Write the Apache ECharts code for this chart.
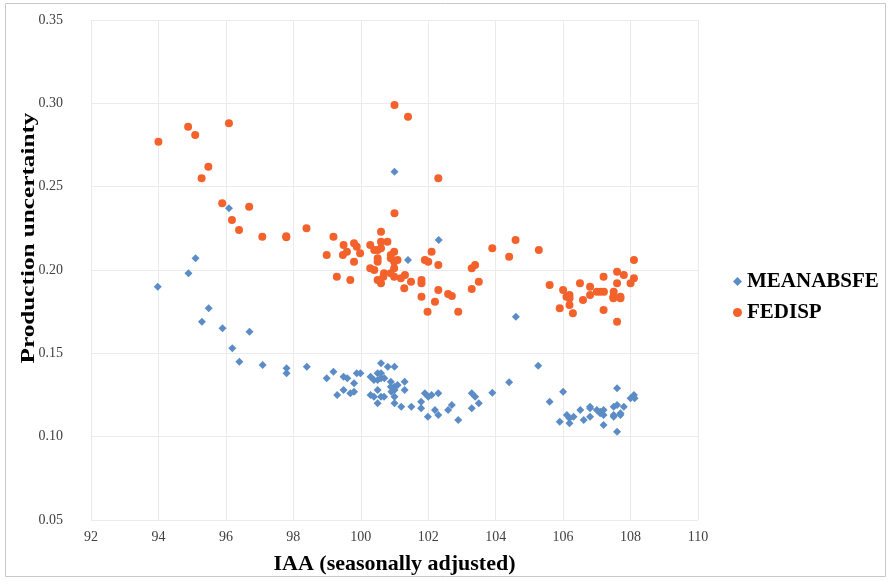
<!DOCTYPE html>
<html>
<head>
<meta charset="utf-8">
<script src="https://cdn.jsdelivr.net/npm/echarts@6/dist/echarts.min.js"></script>
<style>html,body{margin:0;padding:0;background:#fff}#c{width:891px;height:587px}</style>
</head>
<body>
<div id="c"></div>
<script>
const xTicks = [92, 94, 96, 98, 100, 102, 104, 106, 108, 110];
const yTicks = [0.05, 0.10, 0.15, 0.20, 0.25, 0.30, 0.35];
const xTitle = 'IAA (seasonally adjusted)';
const yTitle = 'Production uncertainty';

const fedispX = [94.0,94.88,95.09,96.09,95.48,95.28,95.89,96.69,96.18,96.39,97.08,97.79,97.79,98.39,98.99,101.0,101.4,102.3,101.0,104.59,103.9,104.4,105.28,99.19,99.49,99.59,99.47,99.8,99.88,99.98,99.8,99.29,99.69,100.6,100.6,100.79,100.28,100.4,100.5,100.6,100.99,100.89,100.5,100.5,100.89,101.09,100.99,100.28,100.4,100.99,100.69,100.67,100.89,100.99,100.5,100.6,101.19,101.31,101.49,101.29,101.8,101.8,101.9,102.0,102.1,102.3,102.3,101.8,102.2,102.59,102.7,101.98,102.89,103.29,103.5,103.29,103.39,105.6,106.0,106.1,106.19,106.19,105.9,106.19,106.29,106.5,106.59,106.8,106.8,107.0,107.1,107.21,107.2,107.2,107.5,107.49,107.49,107.7,107.7,107.6,107.6,107.6,107.8,108.0,108.1,108.1];
const fedispY = [0.277,0.286,0.281,0.288,0.262,0.255,0.240,0.238,0.230,0.224,0.220,0.2203,0.2197,0.225,0.209,0.299,0.292,0.255,0.234,0.218,0.213,0.208,0.212,0.220,0.215,0.211,0.209,0.216,0.214,0.210,0.205,0.196,0.194,0.223,0.217,0.217,0.215,0.212,0.212,0.213,0.211,0.209,0.207,0.205,0.207,0.206,0.205,0.201,0.200,0.201,0.198,0.196,0.198,0.196,0.194,0.192,0.195,0.197,0.193,0.189,0.194,0.192,0.206,0.205,0.211,0.203,0.188,0.184,0.181,0.1856,0.1844,0.175,0.175,0.1886,0.193,0.201,0.203,0.191,0.188,0.184,0.185,0.183,0.177,0.179,0.174,0.192,0.182,0.190,0.185,0.187,0.187,0.187,0.196,0.176,0.187,0.183,0.184,0.184,0.183,0.192,0.199,0.169,0.197,0.192,0.195,0.206];

const meanX = [96.09,95.1,94.89,93.98,95.49,95.29,95.9,96.7,96.19,96.4,97.09,97.8,97.8,98.4,98.99,101.0,102.31,101.4,104.6,105.26,104.4,103.9,99.19,99.49,99.6,99.3,99.49,99.69,99.8,99.8,99.88,99.99,100.29,100.39,100.6,100.5,100.6,100.5,100.6,100.7,100.8,101.0,100.5,100.29,100.39,100.6,100.69,100.5,100.89,100.89,101.0,101.09,101.0,100.91,101.3,101.3,101.0,101.0,101.2,101.5,101.79,101.79,101.9,102.0,102.1,102.3,101.99,102.2,102.3,102.59,102.7,102.89,103.29,103.39,103.5,103.29,105.6,106.0,105.9,106.11,106.19,106.31,106.19,106.51,106.61,106.8,106.8,106.8,107.0,107.1,107.2,107.2,107.1,107.2,107.5,107.6,107.5,107.5,107.7,107.7,107.8,107.6,107.6,108.0,108.1,108.12];
const meanY = [0.237,0.207,0.198,0.190,0.177,0.169,0.165,0.163,0.153,0.145,0.143,0.141,0.138,0.142,0.135,0.259,0.218,0.206,0.172,0.1426,0.1326,0.1264,0.139,0.136,0.135,0.125,0.128,0.126,0.127,0.132,0.138,0.138,0.136,0.134,0.144,0.138,0.138,0.134,0.135,0.135,0.142,0.142,0.128,0.125,0.124,0.124,0.124,0.120,0.133,0.130,0.130,0.131,0.128,0.127,0.133,0.128,0.124,0.120,0.118,0.118,0.121,0.117,0.126,0.124,0.125,0.126,0.112,0.116,0.113,0.116,0.119,0.110,0.126,0.124,0.120,0.117,0.121,0.127,0.109,0.113,0.111,0.112,0.108,0.116,0.110,0.118,0.117,0.112,0.116,0.115,0.116,0.113,0.114,0.107,0.118,0.119,0.113,0.112,0.114,0.113,0.118,0.129,0.103,0.123,0.125,0.123];

const pair = (xs, ys) => xs.map((x, i) => [x, ys[i]]);
const serif = '"Liberation Serif", "DejaVu Serif", serif';

const chart = echarts.init(document.getElementById('c'));
chart.setOption({
  backgroundColor: '#fff',
  animation: false,
  graphic: [{
    type: 'rect', silent: true, z: -10,
    shape: { x: 5.5, y: 3.5, width: 880, height: 573 },
    style: { fill: 'none', stroke: '#c8c8c8', lineWidth: 1 }
  }, {
    type: 'text', silent: true,
    x: 29, y: 238, rotation: Math.PI / 2, scaleX: 1.2, scaleY: 0.9,
    style: { text: yTitle, fill: '#000', align: 'center', verticalAlign: 'middle',
      font: 'bold 21px ' + serif }
  }],
  grid: { left: 91, right: 193, top: 20, bottom: 67, containLabel: false },
  xAxis: {
    type: 'value', min: xTicks[0], max: xTicks[xTicks.length - 1], interval: 2,
    name: xTitle, nameLocation: 'middle', nameGap: 33,
    nameTextStyle: { fontFamily: serif, fontWeight: 'bold', fontSize: 22, color: '#000' },
    axisLine: { show: false }, axisTick: { show: false },
    axisLabel: { fontFamily: serif, fontSize: 14, color: '#404040', margin: 10 },
    splitLine: { show: true, lineStyle: { color: '#ebebeb', width: 1 } }
  },
  yAxis: {
    type: 'value', min: yTicks[0], max: yTicks[yTicks.length - 1], interval: 0.05,
    axisLine: { show: false }, axisTick: { show: false },
    axisLabel: { fontFamily: serif, fontSize: 14, color: '#404040', margin: 28,
      formatter: v => v.toFixed(2) },
    splitLine: { show: true, lineStyle: { color: '#ebebeb', width: 1 } }
  },
  legend: {
    orient: 'vertical', left: 728, top: 266, itemGap: 10,
    itemWidth: 9, itemHeight: 9,
    textStyle: { fontFamily: serif, fontWeight: 'bold', fontSize: 21, color: '#000' },
    data: [{ name: 'MEANABSFE', icon: 'diamond' }, { name: 'FEDISP', icon: 'circle' }]
  },
  series: [
    { name: 'MEANABSFE', type: 'scatter', symbol: 'diamond', symbolSize: 8,
      itemStyle: { color: '#5b8cc6', opacity: 1 }, data: pair(meanX, meanY) },
    { name: 'FEDISP', type: 'scatter', symbol: 'circle', symbolSize: 8,
      itemStyle: { color: '#f4622c', opacity: 1 }, data: pair(fedispX, fedispY) }
  ]
});
</script>
</body>
</html>
